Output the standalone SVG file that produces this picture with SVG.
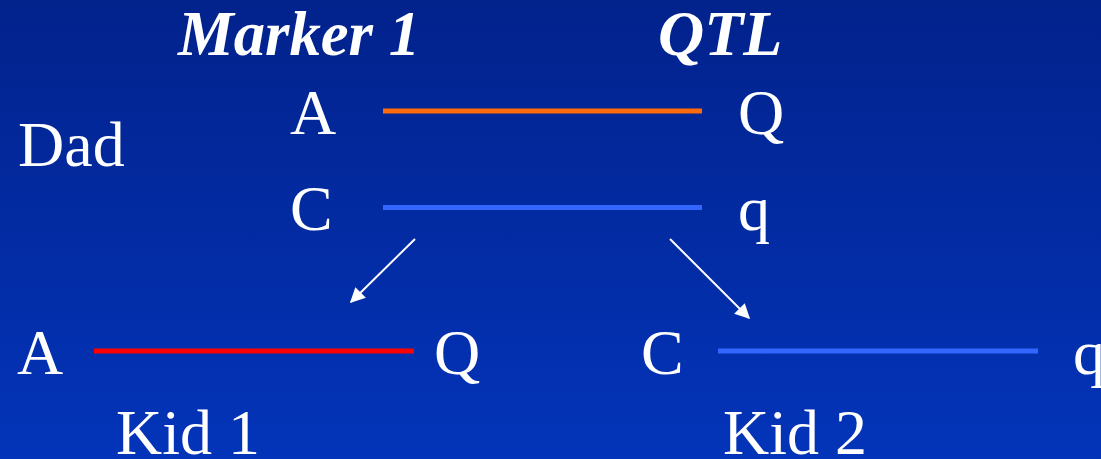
<svg xmlns="http://www.w3.org/2000/svg" width="1101" height="459" viewBox="0 0 1101 459">
  <defs>
    <linearGradient id="bg" x1="0" y1="0" x2="0" y2="1">
      <stop offset="0" stop-color="#02228c"/>
      <stop offset="1" stop-color="#0334b9"/>
    </linearGradient>
    <marker id="arrow" viewBox="0 0 10 10" refX="9" refY="5" markerWidth="20" markerHeight="15" markerUnits="userSpaceOnUse" orient="auto">
      <path d="M0,0 L10,5 L0,10 z" fill="#ffffff"/>
    </marker>
    <style>
      .t { font-family: "Liberation Serif", "Times New Roman", serif; font-size: 64px; fill: #ffffff; }
      .h { font-weight: bold; font-style: italic; }
      .chrom { stroke-width: 5; fill: none; }
      .conn { stroke: #ffffff; stroke-width: 2; fill: none; }
    </style>
  </defs>

  <rect width="1101" height="459" fill="url(#bg)"/>

  <!-- column headings -->
  <g id="headings">
    <text class="t h" x="178" y="55" textLength="242" lengthAdjust="spacingAndGlyphs">Marker 1</text>
    <text class="t h" x="658" y="55">QTL</text>
  </g>

  <!-- parent chromosomes -->
  <g id="dad">
    <text class="t" x="18" y="166">Dad</text>
    <text class="t" x="290" y="134">A</text>
    <line class="chrom" x1="383" y1="111" x2="702" y2="111" stroke="#ff6a0a"/>
    <text class="t" x="738" y="134">Q</text>
    <text class="t" x="290" y="230">C</text>
    <line class="chrom" x1="383" y1="207.5" x2="702" y2="207.5" stroke="#3366ff"/>
    <text class="t" x="738" y="230">q</text>
  </g>

  <!-- offspring 1 -->
  <g id="kid1">
    <text class="t" x="17" y="374">A</text>
    <line class="chrom" x1="94" y1="351" x2="414" y2="351" stroke="#ff0000"/>
    <text class="t" x="434" y="374">Q</text>
    <text class="t" x="116" y="454">Kid 1</text>
  </g>

  <!-- offspring 2 -->
  <g id="kid2">
    <text class="t" x="641" y="374">C</text>
    <line class="chrom" x1="718" y1="351" x2="1038" y2="351" stroke="#3366ff"/>
    <text class="t" x="1073" y="374">q</text>
    <text class="t" x="723" y="454">Kid 2</text>
  </g>

  <!-- inheritance arrows -->
  <g id="connectors">
    <line class="conn" x1="415" y1="239" x2="351" y2="302" marker-end="url(#arrow)"/>
    <line class="conn" x1="670" y1="239" x2="749" y2="318" marker-end="url(#arrow)"/>
  </g>
</svg>
